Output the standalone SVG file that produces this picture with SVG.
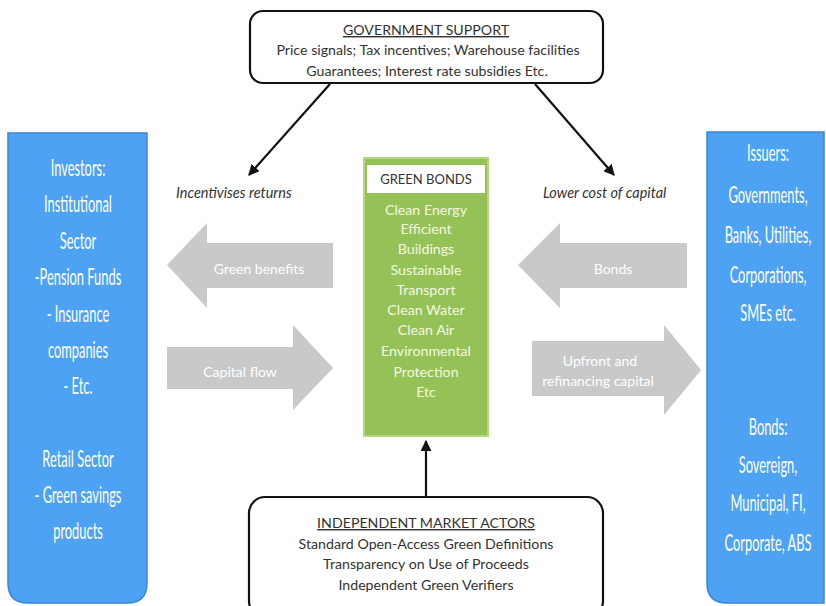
<svg xmlns="http://www.w3.org/2000/svg" width="826" height="606" viewBox="0 0 826 606">
<defs>
<style>
.box{fill:#fff;stroke:#111;stroke-width:2.2}
.t{font-family:Lato,"Open Sans","DejaVu Sans",sans-serif;font-size:14.2px;fill:#333;text-anchor:middle}
.u{text-decoration:underline}
.it{font-family:Lato,"Open Sans","DejaVu Sans",sans-serif;font-size:14.5px;font-style:italic;fill:#333}
.blue{fill:#4ea2f4;stroke:#3a86d6;stroke-width:1.5}
.bt{font-family:Lato,"Open Sans","DejaVu Sans",sans-serif;font-size:23px;fill:#fff;text-anchor:middle}
.g{fill:#94c256;stroke:#b5d87e;stroke-width:2}
.gt{font-family:Lato,"Open Sans","DejaVu Sans",sans-serif;font-size:14.2px;fill:#f4f8e0;text-anchor:middle}
.ga{fill:#c9c9c9}
.gat{font-family:Lato,"Open Sans","DejaVu Sans",sans-serif;font-size:14px;fill:#fff;text-anchor:middle}
.c{stroke:#111;stroke-width:2.2;fill:none}
</style>
<marker id="ah" viewBox="0 0 10 10" refX="9" refY="5" markerWidth="5" markerHeight="5" orient="auto" markerUnits="strokeWidth">
<path d="M0,0 L10,5 L0,10 z" fill="#111"/>
</marker>
</defs>

<g id="investors">
<path class="blue" d="M8,133 H147 V583 Q147,603 127,603 H28 Q8,603 8,583 Z"/>
<g transform="translate(78,0) scale(0.56,1)">
<text class="bt" x="0" y="176">Investors:</text>
<text class="bt" x="0" y="212">Institutional</text>
<text class="bt" x="0" y="249">Sector</text>
<text class="bt" x="0" y="285">-Pension Funds</text>
<text class="bt" x="0" y="322">- Insurance</text>
<text class="bt" x="0" y="358">companies</text>
<text class="bt" x="0" y="394">- Etc.</text>
<text class="bt" x="0" y="467">Retail Sector</text>
<text class="bt" x="0" y="503">- Green savings</text>
<text class="bt" x="0" y="539">products</text>
</g>
</g>

<g id="issuers">
<path class="blue" d="M707,132 H824 V603 H727 Q707,603 707,583 Z"/>
<g transform="translate(768,0) scale(0.56,1)">
<text class="bt" x="0" y="161">Issuers:</text>
<text class="bt" x="0" y="203">Governments,</text>
<text class="bt" x="0" y="243">Banks, Utilities,</text>
<text class="bt" x="0" y="283">Corporations,</text>
<text class="bt" x="0" y="321">SMEs etc.</text>
<text class="bt" x="0" y="435">Bonds:</text>
<text class="bt" x="0" y="473">Sovereign,</text>
<text class="bt" x="0" y="511">Municipal, FI,</text>
<text class="bt" x="0" y="551">Corporate, ABS</text>
</g>
</g>

<g id="government">
<rect class="box" x="250" y="11" width="353" height="72" rx="13"/>
<text class="t u" x="426" y="35">GOVERNMENT SUPPORT</text>
<text class="t" x="428" y="55">Price signals; Tax incentives; Warehouse facilities</text>
<text class="t" x="427" y="76">Guarantees; Interest rate subsidies Etc.</text>
</g>

<g id="market-actors">
<rect class="box" x="249" y="497" width="354" height="120" rx="16"/>
<text class="t u" x="426" y="528">INDEPENDENT MARKET ACTORS</text>
<text class="t" x="426" y="549">Standard Open-Access Green Definitions</text>
<text class="t" x="426" y="569">Transparency on Use of Proceeds</text>
<text class="t" x="426" y="590">Independent Green Verifiers</text>
</g>

<g id="green-bonds">
<rect class="g" x="364" y="158" width="124" height="278"/>
<rect x="367" y="165" width="118" height="28" fill="#fff"/>
<text class="t" x="426" y="184" style="font-size:13px">GREEN BONDS</text>
<text class="gt" x="426" y="215">Clean Energy</text>
<text class="gt" x="426" y="234">Efficient</text>
<text class="gt" x="426" y="254">Buildings</text>
<text class="gt" x="426" y="275">Sustainable</text>
<text class="gt" x="426" y="295">Transport</text>
<text class="gt" x="426" y="315">Clean Water</text>
<text class="gt" x="426" y="335">Clean Air</text>
<text class="gt" x="426" y="356">Environmental</text>
<text class="gt" x="426" y="377">Protection</text>
<text class="gt" x="426" y="397">Etc</text>
</g>

<g id="green-benefits">
<polygon class="ga" points="167,265 207,223 207,243 333,243 333,288 207,288 207,308"/>
<text class="gat" x="259" y="274">Green benefits</text>
</g>
<g id="capital-flow">
<polygon class="ga" points="167,347 293,347 293,325 333,368 293,410 293,389 167,389"/>
<text class="gat" x="240" y="377">Capital flow</text>
</g>
<g id="bonds">
<polygon class="ga" points="518,265 560,223 560,243 687,243 687,288 560,288 560,308"/>
<text class="gat" x="613" y="274">Bonds</text>
</g>
<g id="upfront">
<polygon class="ga" points="532,341 664,341 664,325 701,370 664,415 664,396 532,396"/>
<text class="gat" x="600" y="366">Upfront and</text>
<text class="gat" x="598" y="386">refinancing  capital</text>
</g>

<g id="labels">
<text class="it" x="176" y="198">Incentivises returns</text>
<text class="it" x="543" y="198">Lower cost of capital</text>
</g>

<g id="connectors">
<line class="c" x1="330" y1="84" x2="249" y2="175" marker-end="url(#ah)"/>
<line class="c" x1="535" y1="84" x2="614" y2="175" marker-end="url(#ah)"/>
<line class="c" x1="426" y1="497" x2="426" y2="441" marker-end="url(#ah)"/>
</g>
</svg>
